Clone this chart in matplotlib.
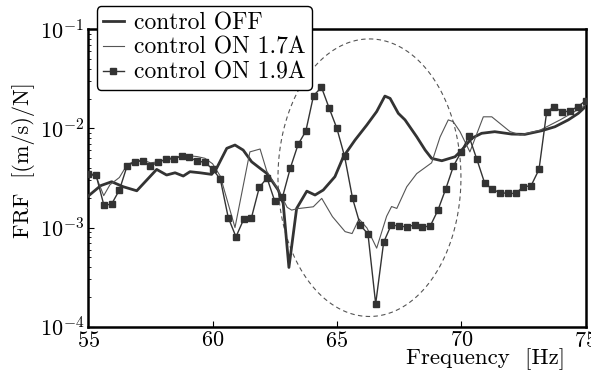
import matplotlib
matplotlib.use('Agg')
import matplotlib.pyplot as plt
import numpy as np

# ---------------- data ----------------
f_off = [55.0, 55.5, 55.94, 56.41, 56.95, 57.75, 58.15, 58.49, 58.82, 59.09,
         59.49, 59.96, 60.16, 60.57, 60.9, 61.23, 61.57, 61.91, 62.18, 62.64,
         62.84, 63.07, 63.38, 63.79, 64.12, 64.45, 64.92, 65.26, 65.73, 66.2,
         66.6, 66.93, 67.14, 67.47, 67.74, 68.21, 68.55, 68.81, 69.22, 69.75,
         69.99, 70.42, 70.82, 71.35, 72.03, 72.56, 73.24, 73.77, 74.31, 74.71,
         75.0]
frf_off = [2.08e-3, 2.65e-3, 2.9e-3, 2.58e-3, 2.35e-3, 3.86e-3, 3.39e-3, 3.57e-3, 3.31e-3, 3.66e-3,
           3.57e-3, 3.44e-3, 3.96e-3, 6.3e-3, 6.8e-3, 6.05e-3, 4.61e-3, 3.96e-3, 3.52e-3, 2.39e-3,
           1.75e-3, 3.96e-4, 1.56e-3, 2.33e-3, 2.13e-3, 2.39e-3, 3.26e-3, 5.18e-3, 7.64e-3, 1.08e-2,
           1.48e-2, 2.12e-2, 2.01e-2, 1.42e-2, 1.22e-2, 8.24e-3, 6.05e-3, 4.99e-3, 4.72e-3, 5.18e-3,
           5.92e-3, 7.94e-3, 8.93e-3, 9.27e-3, 8.77e-3, 8.71e-3, 9.48e-3, 1.04e-2, 1.22e-2, 1.42e-2,
           1.66e-2]

f_on17 = [55.0, 55.31, 55.62, 55.87, 56.25, 56.56, 56.88, 57.19, 57.5, 57.81,
          58.13, 58.44, 58.75, 59.06, 59.38, 59.69, 60.0, 60.31, 60.9, 61.5,
          61.91, 62.18, 62.64, 63.0, 63.18, 63.4, 64.05, 64.39, 64.82, 65.33,
          65.61, 65.89, 66.21, 66.6, 67.0, 67.2, 67.41, 67.81, 68.21, 68.81,
          69.15, 69.48, 69.68, 69.95, 70.35, 70.89, 71.23, 71.96, 72.37, 73.17,
          73.98, 74.91, 75.0]
frf_on17 = [3.4e-3, 3.3e-3, 2.1e-3, 2.7e-3, 3.2e-3, 4.3e-3, 4.7e-3, 4.8e-3, 4.5e-3, 4.6e-3,
            4.9e-3, 5.1e-3, 5.2e-3, 5.3e-3, 5.2e-3, 5.0e-3, 4.4e-3, 3.3e-3, 1.0e-3, 5.8e-3,
            6.2e-3, 3.7e-3, 2.4e-3, 1.6e-3, 1.5e-3, 1.55e-3, 1.62e-3, 1.97e-3, 1.29e-3, 9.1e-4,
            8.7e-4, 1.22e-3, 9.9e-4, 6.2e-4, 1.3e-3, 1.63e-3, 1.56e-3, 2.58e-3, 3.5e-3, 4.5e-3,
            8.2e-3, 1.22e-2, 1.17e-2, 9.3e-3, 5.8e-3, 1.31e-2, 1.31e-2, 9.3e-3, 8.6e-3, 9.6e-3,
            1.22e-2, 1.66e-2, 1.8e-2]

f_on19 = [55.0, 55.31, 55.63, 55.94, 56.25, 56.56, 56.88, 57.19, 57.5, 57.81,
          58.13, 58.44, 58.75, 59.06, 59.38, 59.69, 60.0, 60.31, 60.63, 60.94,
          61.25, 61.56, 61.88, 62.19, 62.5, 62.81, 63.13, 63.44, 63.75, 64.06,
          64.38, 64.69, 65.0, 65.31, 65.63, 65.94, 66.25, 66.56, 66.88, 67.19,
          67.5, 67.81, 68.13, 68.44, 68.75, 69.06, 69.38, 69.69, 70.0, 70.31,
          70.63, 70.94, 71.25, 71.56, 71.88, 72.19, 72.5, 72.81, 73.13, 73.44,
          73.75, 74.06, 74.38, 74.69, 75.0]
frf_on19 = [3.5e-3, 3.4e-3, 1.67e-3, 1.73e-3, 2.39e-3, 4.18e-3, 4.61e-3, 4.72e-3, 4.2e-3, 4.55e-3,
            4.88e-3, 4.95e-3, 5.27e-3, 5.11e-3, 4.69e-3, 4.55e-3, 3.89e-3, 3.08e-3, 1.26e-3, 8.07e-4,
            1.21e-3, 1.25e-3, 2.55e-3, 3.16e-3, 1.85e-3, 2.02e-3, 4.01e-3, 6.9e-3, 9.4e-3, 2.14e-2,
            2.6e-2, 1.6e-2, 1.0e-2, 5.22e-3, 1.97e-3, 1.06e-3, 8.6e-4, 1.7e-4, 7.1e-4, 1.07e-3,
            1.03e-3, 1.02e-3, 1.06e-3, 1.02e-3, 1.03e-3, 1.49e-3, 2.46e-3, 4.18e-3, 5.8e-3, 8.37e-3,
            4.88e-3, 2.83e-3, 2.43e-3, 2.25e-3, 2.21e-3, 2.21e-3, 2.58e-3, 2.64e-3, 3.86e-3, 1.48e-2,
            1.66e-2, 1.45e-2, 1.51e-2, 1.66e-2, 1.9e-2]

labels = ['control OFF', 'control ON 1.7A', 'control ON 1.9A']
x_ticks = [55, 60, 65, 70, 75]

# highlighted region (ellipse): centre freq, centre log10(FRF), half-widths
ell_cx, ell_cy, ell_a, ell_b = 66.31, -2.497, 3.68, 1.40

# ---------------- style ----------------
plt.rcParams['font.family'] = ['cmr10', 'DejaVu Serif']
plt.rcParams['mathtext.fontset'] = 'cm'
plt.rcParams['axes.formatter.use_mathtext'] = True
plt.rcParams['axes.unicode_minus'] = False

fig = plt.figure(figsize=(5.91, 3.74), dpi=100)
ax = fig.add_axes([88.3 / 591, 1 - 326.7 / 374, (585.5 - 88.3) / 591, (326.7 - 29.3) / 374])

ax.plot(f_off, frf_off, color='#333333', lw=2.0, label=labels[0], zorder=3)
ax.plot(f_on17, frf_on17, color='#555555', lw=0.8, label=labels[1], zorder=3)
ax.plot(f_on19, frf_on19, color='#333333', lw=1.0, marker='s', ms=4.8,
        label=labels[2], zorder=4)

t = np.linspace(0, 2 * np.pi, 300)
ax.plot(ell_cx + ell_a * np.cos(t), 10 ** (ell_cy + ell_b * np.sin(t)),
        ls=(0, (4, 3)), color='#555555', lw=0.8, zorder=2)

ax.set_yscale('log')
ax.set_xlim(55, 75)
ax.set_ylim(1e-4, 1e-1)
ax.set_xticks(x_ticks)
ax.tick_params(which='major', direction='in', labelsize=16, length=4, width=0.8)
ax.tick_params(which='minor', direction='in', length=2.5, width=0.6)
ax.tick_params(axis='y', pad=3)
ax.tick_params(axis='x', pad=3)
for s in ax.spines.values():
    s.set_linewidth(1.8)

ax.set_ylabel('FRF  [(m/s)/N]', fontsize=16)
ax.yaxis.set_label_coords(-0.108, 0.56)
ax.set_xlabel('Frequency  [Hz]', fontsize=16.5)
ax.xaxis.label.set_horizontalalignment('right')
ax.xaxis.set_label_coords(0.96, -0.074)

leg = ax.legend(loc='upper left', bbox_to_anchor=(96.7 / 591, 1 - 6 / 374),
                bbox_transform=fig.transFigure, borderaxespad=0, fontsize=17,
                handlelength=0.9, handletextpad=0.45, labelspacing=0.12,
                borderpad=0.25, frameon=True, fancybox=True, framealpha=1,
                edgecolor='black', numpoints=1)
leg.get_frame().set_linewidth(1.0)

fig.savefig('out.png', dpi=100)
